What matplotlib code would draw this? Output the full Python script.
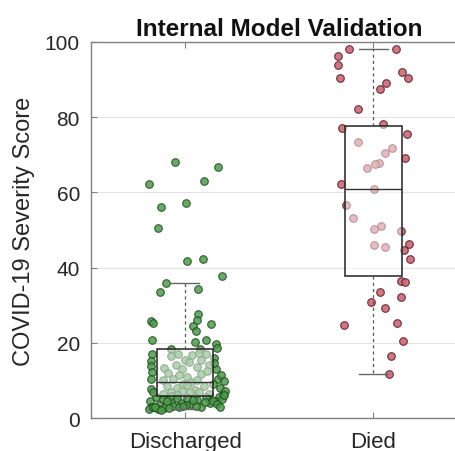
import matplotlib
matplotlib.use("Agg")
import matplotlib.pyplot as plt
import numpy as np

plt.rcParams['font.family'] = ['Liberation Sans', 'DejaVu Sans']

categories = ["Discharged", "Died"]
title = "Internal Model Validation"
ylabel = "COVID-19 Severity Score"
yticks = [0, 20, 40, 60, 80, 100]

# Discharged: (score, horizontal pixel position)
discharged_scores = [68.2, 66.8, 62.3, 63.1, 56.1, 57.1, 50.4, 41.7, 42.3, 37.8,
                     35.8, 33.4, 34.4, 27.7, 26.1, 25.9, 25.3, 24.5, 23.2, 25.0,
                     20.7, 20.1, 20.7, 19.7, 18.6, 18.3, 18.3,
                     17.0, 15.2, 13.7, 12.2, 10.4, 7.7, 4.6, 2.8, 2.4,
                     16.0, 13.0, 10.5, 8.0, 6.5, 5.5, 4.5, 7.2, 9.0,
                     16.6, 17.0, 15.5, 16.8, 17.2, 17.0, 14.0, 15.5, 13.3, 14.0,
                     13.0, 15.0, 13.5, 12.0, 11.5, 11.0, 11.8, 12.5, 10.0, 10.5,
                     9.5, 9.0, 10.0, 8.5, 8.0, 8.8, 7.5, 8.5, 7.0, 7.2,
                     6.8, 7.0, 6.3, 6.5, 6.2,
                     5.5, 5.0, 4.2, 3.5, 3.0, 2.6, 3.2, 4.0, 5.2, 3.8,
                     2.8, 4.8, 3.0, 5.5, 4.0, 3.5, 2.5, 5.8, 4.5, 3.3,
                     3.0, 2.2, 4.4, 3.6, 2.9, 5.0, 6.0, 4.2, 3.1, 5.3,
                     11.5, 9.8, 14.5, 6.8, 2.7, 4.9]
discharged_px = [174, 217, 148, 203, 160, 185, 157, 186, 202, 221,
                 165, 159, 197, 197, 196, 150, 152, 192, 195, 210,
                 151, 194, 205, 215, 216, 199, 170,
                 151, 150, 150, 151, 150, 150, 149, 150, 148,
                 213, 215, 217, 219, 222, 218, 214, 224, 212,
                 170, 177, 184, 191, 198, 205, 208, 200, 163, 175,
                 181, 188, 196, 167, 178, 186, 200, 206, 162, 172,
                 190, 182, 196, 166, 176, 186, 194, 203, 170, 181,
                 189, 198, 208, 162, 176,
                 155, 162, 170, 158, 152, 163, 172, 180, 186, 190,
                 178, 196, 200, 205, 209, 185, 157, 170, 166, 195,
                 154, 160, 212, 216, 219, 221, 223, 204, 182, 176,
                 220, 223, 213, 152, 168, 192]

died_scores = [98.1, 98.0, 96.2, 94.0, 90.3, 92.0, 90.4, 89.0, 87.5, 82.2,
               77.0, 78.2, 75.5, 73.3, 71.9, 70.4, 69.2, 67.8, 67.6, 66.4,
               62.1, 60.9, 56.7, 53.3, 51.1, 50.3, 49.6, 46.2, 45.9, 45.4,
               44.6, 42.3, 36.4, 36.1, 33.6, 32.1, 30.8, 29.2, 24.8, 25.3,
               20.5, 16.4, 11.7]
died_px = [348.7, 395.3, 337.7, 337.7, 339.7, 402, 407.7, 385.3, 380, 357.7,
           341.7, 382.3, 406.3, 357.7, 392, 385, 404.7, 378.3, 375, 367,
           340.3, 373.3, 345.7, 353, 380.7, 373.3, 400.3, 408.7, 373.7, 384.7,
           403.7, 409.7, 401, 404.7, 379.3, 401, 371, 384.3, 343, 397,
           403, 390.7, 388.7]

# box statistics
box_q1 = [5.9, 37.7]
box_med = [9.5, 60.8]
box_q3 = [18.4, 77.7]
box_lo = [2.4, 11.7]
box_hi = [35.8, 98.1]

fig = plt.figure(figsize=(4.55, 4.52), dpi=100)
ax = fig.add_axes([0.2, 0.073, 0.8275, 0.832])

centers_px = [184, 373]
px_per_unit = centers_px[1] - centers_px[0]
d_x = 1 + (np.array(discharged_px) - centers_px[0]) / px_per_unit
r_x = 2 + (np.array(died_px) - centers_px[1]) / px_per_unit

ax.scatter(d_x, discharged_scores, s=30, facecolor='#4c9c4c', edgecolor='#1e4a1e',
           linewidths=0.8, alpha=0.85, zorder=2)
ax.scatter(r_x, died_scores, s=30, facecolor='#cd6873', edgecolor='#5a2028',
           linewidths=0.8, alpha=0.9, zorder=2)

stats = []
for i in range(2):
    stats.append(dict(q1=box_q1[i], med=box_med[i], q3=box_q3[i],
                      whislo=box_lo[i], whishi=box_hi[i], fliers=[], label=categories[i]))
ax.bxp(stats, positions=[1, 2], widths=0.3, showfliers=False, patch_artist=True,
       boxprops=dict(facecolor=(1, 1, 1, 0.5), edgecolor='#222222', linewidth=1.1),
       medianprops=dict(color='#333333', linewidth=1.0),
       whiskerprops=dict(color='#555555', linestyle=(0, (2.5, 2.5)), linewidth=0.9),
       capprops=dict(color='#666666', linewidth=1.0),
       capwidths=0.15, zorder=3)

ax.set_xlim(0.5, 2.5)
ax.set_ylim(0, 100)
ax.set_yticks(yticks)
ax.set_xticks([1, 2])
ax.set_xticklabels(categories)
ax.yaxis.grid(True, color='#e3e3e3', linewidth=0.8, zorder=0)
ax.set_axisbelow(True)
for s in ['left', 'top', 'bottom']:
    ax.spines[s].set_color('#808080')
    ax.spines[s].set_linewidth(1.0)
ax.spines['right'].set_visible(False)
ax.tick_params(direction='in', length=4, color='#808080',
               labelcolor='#262626', top=True)
ax.tick_params(axis='y', labelsize=15, pad=8)
ax.tick_params(axis='x', labelsize=16, pad=9)
ax.set_ylabel(ylabel, fontsize=17, color='#262626')
ax.yaxis.set_label_coords(-0.15, 0.5)
ax.set_title(title, fontsize=17.5, fontweight='bold', color='#111111', pad=5)

fig.savefig("out.png", dpi=100)
